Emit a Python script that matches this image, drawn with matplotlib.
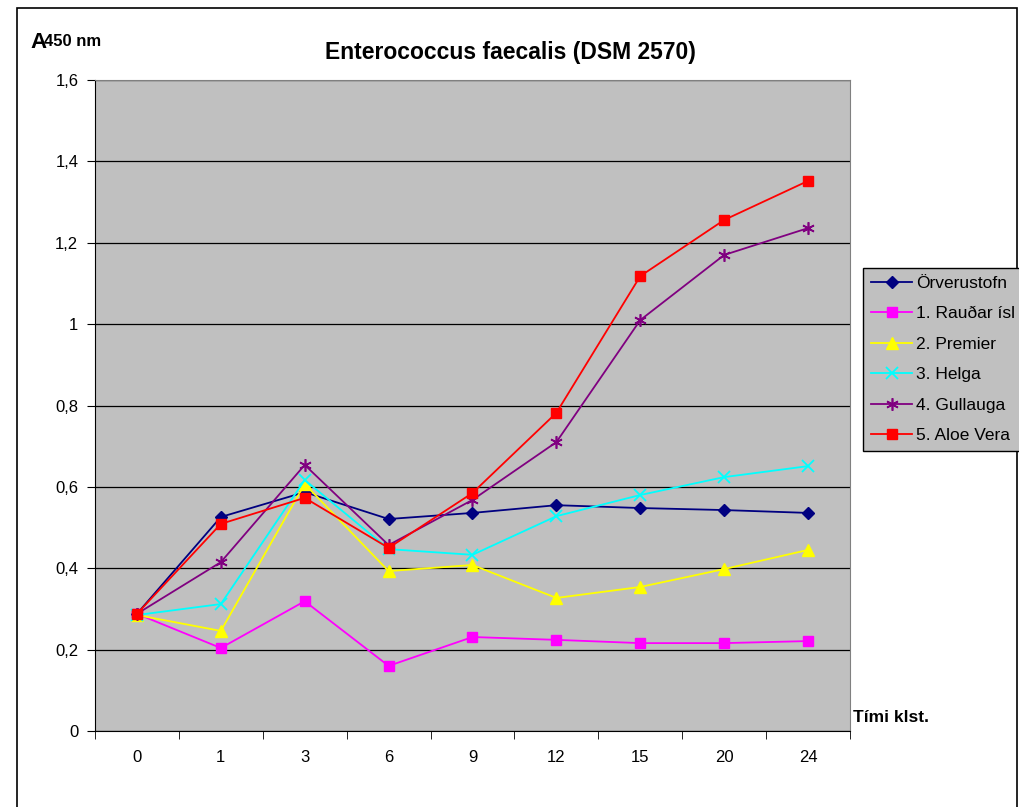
import matplotlib
matplotlib.use("Agg")
import matplotlib.pyplot as plt
from matplotlib.ticker import FuncFormatter, FixedLocator
from matplotlib.patches import Rectangle

plt.rcParams['font.family'] = ['Liberation Sans', 'DejaVu Sans']

# gögn
timar = ["0", "1", "3", "6", "9", "12", "15", "20", "24"]
orverustofn = [0.288, 0.526, 0.587, 0.521, 0.536, 0.555, 0.548, 0.543, 0.536]
raudar = [0.288, 0.204, 0.319, 0.160, 0.231, 0.224, 0.216, 0.216, 0.221]
premier = [0.285, 0.246, 0.607, 0.393, 0.408, 0.327, 0.354, 0.398, 0.445]
helga = [0.285, 0.312, 0.617, 0.447, 0.433, 0.528, 0.580, 0.624, 0.651]
gullauga = [0.288, 0.415, 0.654, 0.457, 0.568, 0.710, 1.010, 1.170, 1.236]
aloe_vera = [0.288, 0.509, 0.573, 0.450, 0.585, 0.782, 1.118, 1.256, 1.352]

fig = plt.figure(figsize=(10.2, 8.07), dpi=100)
fig.patches.append(Rectangle((17/1020, -0.01), 1000/1020, 1 - 8/807 + 0.01,
                             transform=fig.transFigure, fill=False,
                             edgecolor="black", linewidth=1.2))
ax = fig.add_axes([95/1020, 1 - 731/807, 755/1020, 651/807])
ax.set_facecolor("#c0c0c0")

x = list(range(len(timar)))
ax.plot(x, orverustofn, color="#000080", marker="D", markersize=6, lw=1.3, label="Örverustofn")
ax.plot(x, raudar, color="#ff00ff", marker="s", markersize=7, lw=1.3, label="1. Rauðar ísl")
ax.plot(x, premier, color="#ffff00", marker="^", markersize=8, lw=1.3, label="2. Premier")
ax.plot(x, helga, color="#00ffff", marker="x", markersize=8, mew=1.3, lw=1.3, label="3. Helga")
ax.plot(x, gullauga, color="#800080", marker=(6, 2, 0), markersize=9, mew=1.2, lw=1.3, label="4. Gullauga")
ax.plot(x, aloe_vera, color="#ff0000", marker="s", markersize=7, lw=1.3, label="5. Aloe Vera")

ax.set_xlim(-0.5, len(timar) - 0.5)
ax.set_ylim(0, 1.6)
ax.set_xticks(x)
ax.set_xticklabels(timar, fontsize=12)
ax.xaxis.set_minor_locator(FixedLocator([i - 0.5 for i in range(len(timar) + 1)]))
ax.tick_params(axis="x", which="major", length=0, pad=14)
ax.tick_params(axis="x", which="minor", length=6, direction="out")
ax.set_yticks([0, 0.2, 0.4, 0.6, 0.8, 1.0, 1.2, 1.4, 1.6])
ax.yaxis.set_major_formatter(FuncFormatter(lambda v, p: ("%g" % round(v, 1)).replace(".", ",")))
ax.tick_params(axis="y", length=6, direction="out", labelsize=12, pad=6)
ax.grid(axis="y", color="black", linewidth=0.9)
ax.set_axisbelow(True)
for s in ["top", "right"]:
    ax.spines[s].set_color("#808080")
for s in ["left", "bottom"]:
    ax.spines[s].set_color("black")

fig.text(0.5, 1 - 52/807, "Enterococcus faecalis (DSM 2570)", ha="center", va="center",
         fontsize=16.5, fontweight="bold")
fig.text(30/1020, 1 - 42/807, "A", ha="left", va="center", fontsize=16, fontweight="bold")
fig.text(44/1020, 1 - 42/807, "450 nm", ha="left", va="center", fontsize=12, fontweight="bold")
fig.text(853/1020, 1 - 718/807, "Tími klst.", ha="left", va="center", fontsize=12.5, fontweight="bold")

leg = fig.legend(loc="upper left", bbox_to_anchor=(863/1020, 1 - 268/807), fontsize=12.5,
                 frameon=True, fancybox=False, borderaxespad=0, handlelength=2.4,
                 borderpad=0.45, labelspacing=0.88, handletextpad=0.2)
leg.get_frame().set_facecolor("#c0c0c0")
leg.get_frame().set_edgecolor("black")
leg.get_frame().set_alpha(1)

fig.savefig("out.png", dpi=100)
